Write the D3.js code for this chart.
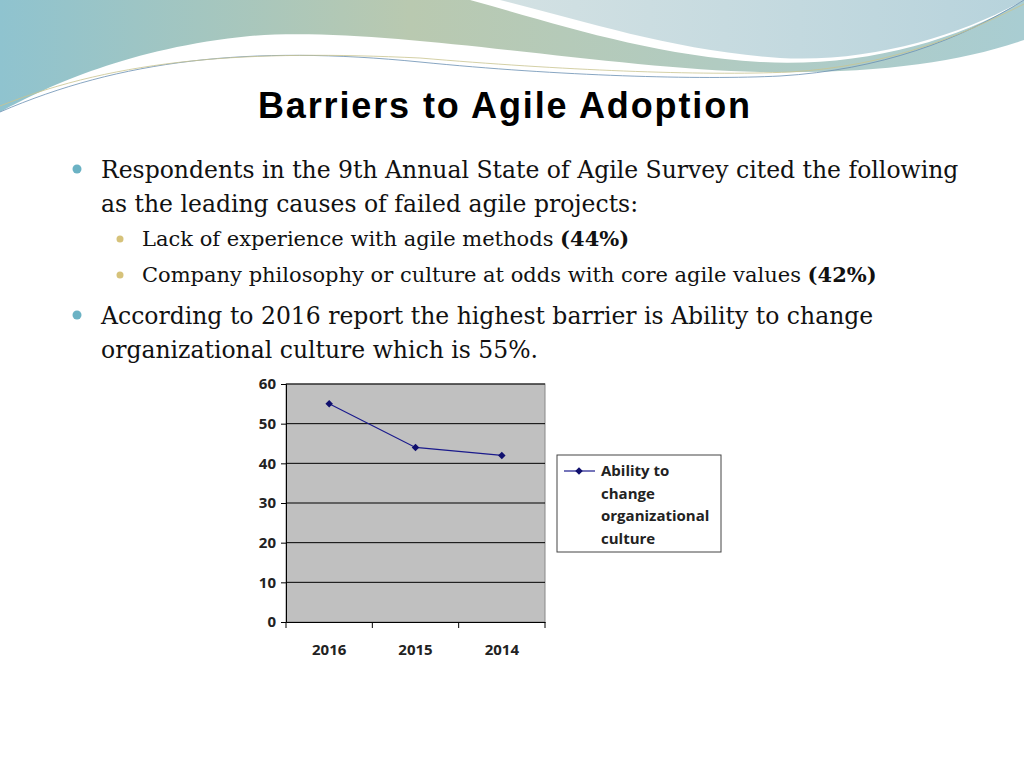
<!DOCTYPE html>
<html lang="en">
<head>
<meta charset="UTF-8">
<title>Barriers to Agile Adoption</title>
<script src="https://d3js.org/d3.v7.min.js"></script>
<style>
  body { margin: 0; background: #fff; }
</style>
</head>
<body>
<div id="slide"></div>
<script>
// chart data
const years = ["2016", "2015", "2014"];
const values = [55, 44, 42];
const yTicks = [0, 10, 20, 30, 40, 50, 60];
const seriesName = ["Ability to", "change", "organizational", "culture"];

const bullets = [
  { level: 0, lines: ["Respondents in the 9th Annual State of Agile Survey cited the following", "as the leading causes of failed agile projects:"] },
  { level: 1, lines: [["Lack of experience with agile methods ", "(44%)"]] },
  { level: 1, lines: [["Company philosophy or culture at odds with core agile values ", "(42%)"]] },
  { level: 0, lines: ["According to 2016 report the highest barrier is Ability to change", "organizational culture which is 55%."] }
];

const svg = d3.select("#slide").append("svg")
    .attr("width", 1024).attr("height", 768);

// header decoration
const defs = svg.append("defs");
const g1 = defs.append("linearGradient").attr("id", "wave1");
g1.append("stop").attr("offset", "0%").attr("stop-color", "#8fc3cf");
g1.append("stop").attr("offset", "40%").attr("stop-color", "#b9c9b0");
g1.append("stop").attr("offset", "100%").attr("stop-color", "#a9cdd2");
const g2 = defs.append("linearGradient").attr("id", "wave2");
g2.append("stop").attr("offset", "0%").attr("stop-color", "#d3e1e3");
g2.append("stop").attr("offset", "100%").attr("stop-color", "#b7d3dc");

svg.append("path").attr("fill", "url(#wave1)")
    .attr("d", "M0,0 L1024,0 L1024,40 C960,62 880,74 760,72 C600,68 380,25 250,36 C130,48 50,85 0,112 Z");
svg.append("path").attr("fill", "#fff")
    .attr("d", "M470,0 C560,25 650,55 760,62 C860,68 960,40 1024,0 Z");
svg.append("path").attr("fill", "url(#wave2)")
    .attr("d", "M500,0 C590,22 670,50 780,58 C870,63 960,36 1024,0 Z");
svg.append("path").attr("fill", "none").attr("stroke", "#6a8fb3").attr("stroke-width", 0.8)
    .attr("d", "M0,112 C120,60 250,45 420,62 C560,76 700,80 780,76 C880,70 960,40 1024,0");
svg.append("path").attr("fill", "none").attr("stroke", "#c9c48f").attr("stroke-width", 0.8)
    .attr("d", "M0,106 C120,58 250,50 420,58 C560,70 700,76 790,72 C890,66 960,36 1024,4");

svg.append("text")
    .attr("x", 504).attr("y", 118)
    .attr("text-anchor", "middle")
    .attr("font-family", "Liberation Sans, Arial, sans-serif")
    .attr("font-weight", "bold")
    .attr("font-size", 36)
    .attr("fill", "#000")
    .attr("textLength", 492)
    .text("Barriers to Agile Adoption");

// bullet text
const serif = "DejaVu Serif, Liberation Serif, serif";
let yPos = 178;
let prev = 0;
bullets.forEach(b => {
  if (b.level === 0 && prev === 1) yPos += 6;
  const x0 = b.level === 0 ? 101 : 142;
  const fs = b.level === 0 ? 23.5 : 21;
  svg.append("circle")
      .attr("cx", b.level === 0 ? 77 : 120)
      .attr("cy", yPos - (b.level === 0 ? 9 : 7))
      .attr("r", b.level === 0 ? 4.5 : 3.5)
      .attr("fill", b.level === 0 ? "#6bb2c4" : "#d6c27a");
  b.lines.forEach(line => {
    const t = svg.append("text")
        .attr("x", x0).attr("y", yPos)
        .attr("font-family", serif)
        .attr("font-size", fs)
        .attr("fill", "#111");
    if (Array.isArray(line)) {
      t.append("tspan").text(line[0]);
      t.append("tspan").attr("font-weight", "bold").text(line[1]);
    } else {
      t.text(line);
    }
    yPos += b.level === 0 ? 34 : 36;
  });
  prev = b.level;
});

// chart
const plot = { left: 286, top: 384, right: 545, bottom: 622 };
const x = d3.scaleBand().domain(years).range([plot.left, plot.right]);
const y = d3.scaleLinear().domain([0, 60]).range([plot.bottom, plot.top]);

svg.append("rect")
    .attr("x", plot.left).attr("y", plot.top)
    .attr("width", plot.right - plot.left).attr("height", plot.bottom - plot.top)
    .attr("fill", "#c0c0c0").attr("stroke", "#888");

svg.append("g").selectAll("line").data(yTicks.filter(d => d > 0)).join("line")
    .attr("x1", plot.left).attr("x2", plot.right)
    .attr("y1", d => y(d)).attr("y2", d => y(d))
    .attr("stroke", "#000").attr("stroke-width", 1);

const chartFont = "Open Sans, DejaVu Sans, sans-serif";
const yAxis = svg.append("g")
    .attr("transform", `translate(${plot.left},0)`)
    .call(d3.axisLeft(y).tickValues(yTicks).tickSize(5).tickPadding(5));
yAxis.selectAll("text").attr("font-family", chartFont).attr("font-weight", "bold")
    .attr("font-size", 15).attr("fill", "#222");

const xAxis = svg.append("g")
    .attr("transform", `translate(0,${plot.bottom})`)
    .call(d3.axisBottom(x).tickSize(0).tickPadding(22));
xAxis.selectAll("text").attr("font-family", chartFont).attr("font-weight", "bold")
    .attr("font-size", 15).attr("fill", "#222");
xAxis.select(".domain").attr("stroke", "#000");
yAxis.select(".domain").attr("stroke", "#000");
// category separators
svg.append("g").selectAll("line").data(years.concat(["end"])).join("line")
    .attr("x1", (d, i) => plot.left + i * x.bandwidth())
    .attr("x2", (d, i) => plot.left + i * x.bandwidth())
    .attr("y1", plot.bottom).attr("y2", plot.bottom + 6)
    .attr("stroke", "#000");

const lineGen = d3.line()
    .x((d, i) => x(years[i]) + x.bandwidth() / 2)
    .y(d => y(d));
svg.append("path").datum(values)
    .attr("d", lineGen).attr("fill", "none")
    .attr("stroke", "#1a1a8c").attr("stroke-width", 1.2);

const diamond = d3.symbol().type(d3.symbolSquare).size(28);
svg.append("g").selectAll("path").data(values).join("path")
    .attr("d", diamond)
    .attr("transform", (d, i) => `translate(${x(years[i]) + x.bandwidth() / 2},${y(d)}) rotate(45)`)
    .attr("fill", "#10106e");

// legend
const lg = svg.append("g").attr("transform", "translate(557,455)");
lg.append("rect").attr("width", 164).attr("height", 97)
    .attr("fill", "#fff").attr("stroke", "#444");
lg.append("line").attr("x1", 7).attr("x2", 38).attr("y1", 16).attr("y2", 16)
    .attr("stroke", "#1a1a8c").attr("stroke-width", 1.2);
lg.append("path").attr("d", diamond).attr("transform", "translate(22,16) rotate(45)").attr("fill", "#10106e");
lg.selectAll("text.leg").data(seriesName).join("text")
    .attr("class", "leg")
    .attr("x", 44).attr("y", (d, i) => 21 + i * 22.5)
    .attr("font-family", chartFont).attr("font-weight", "bold")
    .attr("font-size", 15).attr("fill", "#222")
    .text(d => d);
</script>
</body>
</html>
